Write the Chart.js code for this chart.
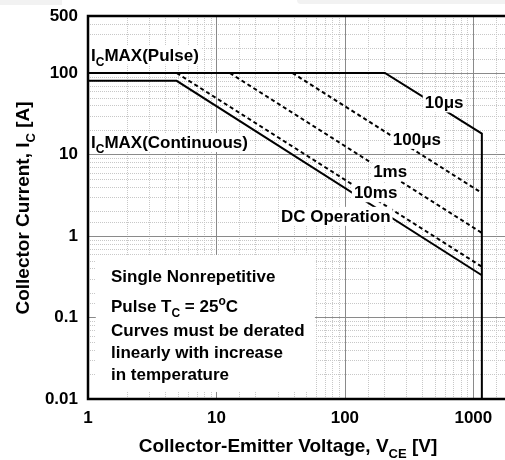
<!DOCTYPE html>
<html>
<head>
<meta charset="utf-8">
<script src="https://cdn.jsdelivr.net/npm/chart.js@4.4.1/dist/chart.umd.min.js"></script>
<style>
  html, body { margin: 0; padding: 0; background: #fff; overflow: hidden; }
  #wrap { position: relative; width: 505px; height: 460px; overflow: hidden; }
  #soa { position: absolute; left: 0; top: 0; }
  .shade { position: absolute; background: #f2f2f2; }
</style>
</head>
<body>
<div id="wrap">
  <canvas id="soa" width="521" height="460" style="width:521px;height:460px"></canvas>
  <div class="shade" style="left:0;top:0;width:62px;height:5px"></div>
  <div class="shade" style="left:297px;top:0;width:208px;height:4px;border-bottom-left-radius:4px"></div>
</div>
<script>
// tick labels
const xTickLabels = [1, 10, 100, 1000];
const yTickLabels = [0.01, 0.1, 1, 10, 100, 500];

// safe operating area boundaries, V_CE [V] / I_C [A]
const pulseV = [1, 205, 1165, 1165];
const pulseI = [100, 100, 18, 0.01];
const dcV = [1, 4.9, 1165];
const dcI = [80, 80, 0.33];
const ms10V = [4.9, 1165];
const ms10I = [100, 0.42];
const ms1V = [12.7, 1165];
const ms1I = [100, 1.09];
const us100V = [39, 1165];
const us100I = [100, 3.37];

const FONT = '"Liberation Sans", Arial, Helvetica, sans-serif';

// curve labels, anchored (left edge, baseline) in data units
const notes = [
  { parts: [['I'], ['C', 'sub'], ['MAX(Pulse)']], v: 1.055, i: 142 },
  { parts: [['I'], ['C', 'sub'], ['MAX(Continuous)']], v: 1.055, i: 12.0 },
  { parts: [['10\u03bcs']], v: 419, i: 36.7 },
  { parts: [['100\u03bcs']], v: 236, i: 13.1 },
  { parts: [['1ms']], v: 166, i: 5.25 },
  { parts: [['10ms']], v: 117.5, i: 2.9 },
  { parts: [['DC Operation']], v: 31.8, i: 1.49 }
];

// conditions text block
const blockArea = { v0: 1.15, v1: 58.4, i0: 0.0122, i1: 0.585 };
const blockV = 1.51;
const blockLines = [
  { parts: [['Single Nonrepetitive']], i: 0.273 },
  { parts: [['Pulse T'], ['C', 'sub'], [' = 25'], ['o', 'sup'], ['C']], i: 0.1168 },
  { parts: [['Curves must be derated']], i: 0.0593 },
  { parts: [['linearly with increase']], i: 0.0318 },
  { parts: [['in temperature']], i: 0.0171 }
];

function rich(ctx, parts, x, y, size, draw) {
  let cx = x;
  for (const [t, kind] of parts) {
    const s = kind ? Math.round(size * 0.68) : size;
    ctx.font = `bold ${s}px ${FONT}`;
    const dy = kind === 'sub' ? size * 0.3 : kind === 'sup' ? -size * 0.42 : 0;
    if (draw) ctx.fillText(t, cx, y + dy);
    cx += ctx.measureText(t).width;
  }
  return cx - x;
}

function isDecade(v) {
  const l = Math.log10(v);
  return Math.abs(l - Math.round(l)) < 1e-6;
}

function pickLabel(list, v) {
  const hit = list.find(t => Math.abs(v / t - 1) < 1e-6);
  return hit === undefined ? '' : String(hit);
}

const gridPlugin = {
  id: 'soaGrid',
  beforeDatasetsDraw(chart) {
    const { ctx, chartArea: a, scales: { x, y } } = chart;
    ctx.save();
    ctx.beginPath();
    ctx.rect(a.left, a.top, a.right - a.left, a.bottom - a.top);
    ctx.clip();
    ctx.lineWidth = 1;
    const line = (x0, y0, x1, y1, major) => {
      ctx.strokeStyle = major ? '#8a8a8a' : '#c8c8c8';
      ctx.setLineDash(major ? [] : [1, 1]);
      ctx.beginPath();
      ctx.moveTo(x0, y0);
      ctx.lineTo(x1, y1);
      ctx.stroke();
    };
    // minor first, majors on top
    [false, true].forEach(pass => {
      x.ticks.forEach(t => {
        if (isDecade(t.value) !== pass) return;
        const px = Math.round(x.getPixelForValue(t.value)) + 0.5;
        line(px, a.top, px, a.bottom, pass);
      });
      y.ticks.forEach(t => {
        if (isDecade(t.value) !== pass) return;
        const py = Math.round(y.getPixelForValue(t.value)) + 0.5;
        line(a.left, py, a.right, py, pass);
      });
    });
    // white panel behind the conditions text
    const bx0 = x.getPixelForValue(blockArea.v0), bx1 = x.getPixelForValue(blockArea.v1);
    const by0 = y.getPixelForValue(blockArea.i1), by1 = y.getPixelForValue(blockArea.i0);
    ctx.fillStyle = '#fff';
    ctx.fillRect(bx0, by0, bx1 - bx0, by1 - by0);
    ctx.restore();
  },
  afterDatasetsDraw(chart) {
    const { ctx, chartArea: a, scales: { x, y } } = chart;
    const size = 17;
    ctx.save();
    ctx.textBaseline = 'alphabetic';
    ctx.textAlign = 'left';
    notes.forEach(n => {
      const px = x.getPixelForValue(n.v), py = y.getPixelForValue(n.i);
      const w = rich(ctx, n.parts, px, py, size, false);
      ctx.fillStyle = '#fff';
      ctx.fillRect(px - 2, py - 15, w + 4, 19);
      ctx.fillStyle = '#000';
      rich(ctx, n.parts, px, py, size, true);
    });
    const bx = x.getPixelForValue(blockV);
    ctx.fillStyle = '#000';
    blockLines.forEach(l => rich(ctx, l.parts, bx, y.getPixelForValue(l.i), size, true));

    // plot frame
    ctx.strokeStyle = '#000';
    ctx.lineWidth = 2.5;
    ctx.setLineDash([]);
    ctx.beginPath();
    ctx.moveTo(a.right + 2, a.top);
    ctx.lineTo(a.left, a.top);
    ctx.lineTo(a.left, a.bottom);
    ctx.lineTo(a.right + 2, a.bottom);
    ctx.stroke();

    // axis titles
    ctx.fillStyle = '#000';
    const ts = 19;
    const xParts = [['Collector-Emitter Voltage, V'], ['CE', 'sub'], [' [V]']];
    const xw = rich(ctx, xParts, 0, 0, ts, false);
    rich(ctx, xParts, 288 - xw / 2, 452, ts, true);
    const yParts = [['Collector Current, I'], ['C', 'sub'], [' [A]']];
    const yw = rich(ctx, yParts, 0, 0, ts, false);
    ctx.translate(29, 208);
    ctx.rotate(-Math.PI / 2);
    rich(ctx, yParts, -yw / 2, 0, ts, true);
    ctx.restore();
  }
};

function curve(v, i, dash) {
  return {
    data: v.map((vx, k) => ({ x: vx, y: i[k] })),
    showLine: true,
    borderColor: '#000',
    borderWidth: 2,
    borderDash: dash,
    pointRadius: 0,
    fill: false,
    tension: 0
  };
}

const tickFont = { family: FONT, size: 17, weight: 'bold' };

new Chart(document.getElementById('soa'), {
  type: 'scatter',
  data: {
    datasets: [
      curve(pulseV, pulseI, []),
      curve(dcV, dcI, []),
      curve(ms10V, ms10I, [4, 3]),
      curve(ms1V, ms1I, [4, 3]),
      curve(us100V, us100I, [4, 3])
    ]
  },
  options: {
    responsive: false,
    animation: false,
    devicePixelRatio: 1,
    layout: { padding: { top: 16, right: 0, bottom: 0, left: 0 } },
    plugins: { legend: { display: false }, tooltip: { enabled: false } },
    scales: {
      x: {
        type: 'logarithmic',
        min: 1,
        max: 2000,
        grid: { display: false, drawTicks: false },
        border: { display: false },
        ticks: {
          autoSkip: false,
          maxRotation: 0,
          padding: 9,
          color: '#000',
          font: tickFont,
          callback: v => pickLabel(xTickLabels, v)
        },
        afterFit(s) { s.height = 61; }
      },
      y: {
        type: 'logarithmic',
        min: 0.01,
        max: 500,
        grid: { display: false, drawTicks: false },
        border: { display: false },
        ticks: {
          autoSkip: false,
          padding: 10,
          color: '#000',
          font: tickFont,
          callback: v => pickLabel(yTickLabels, v)
        },
        afterFit(s) { s.width = 88; s.paddingTop = 0; s.paddingBottom = 0; }
      }
    }
  },
  plugins: [gridPlugin]
});
</script>
</body>
</html>
